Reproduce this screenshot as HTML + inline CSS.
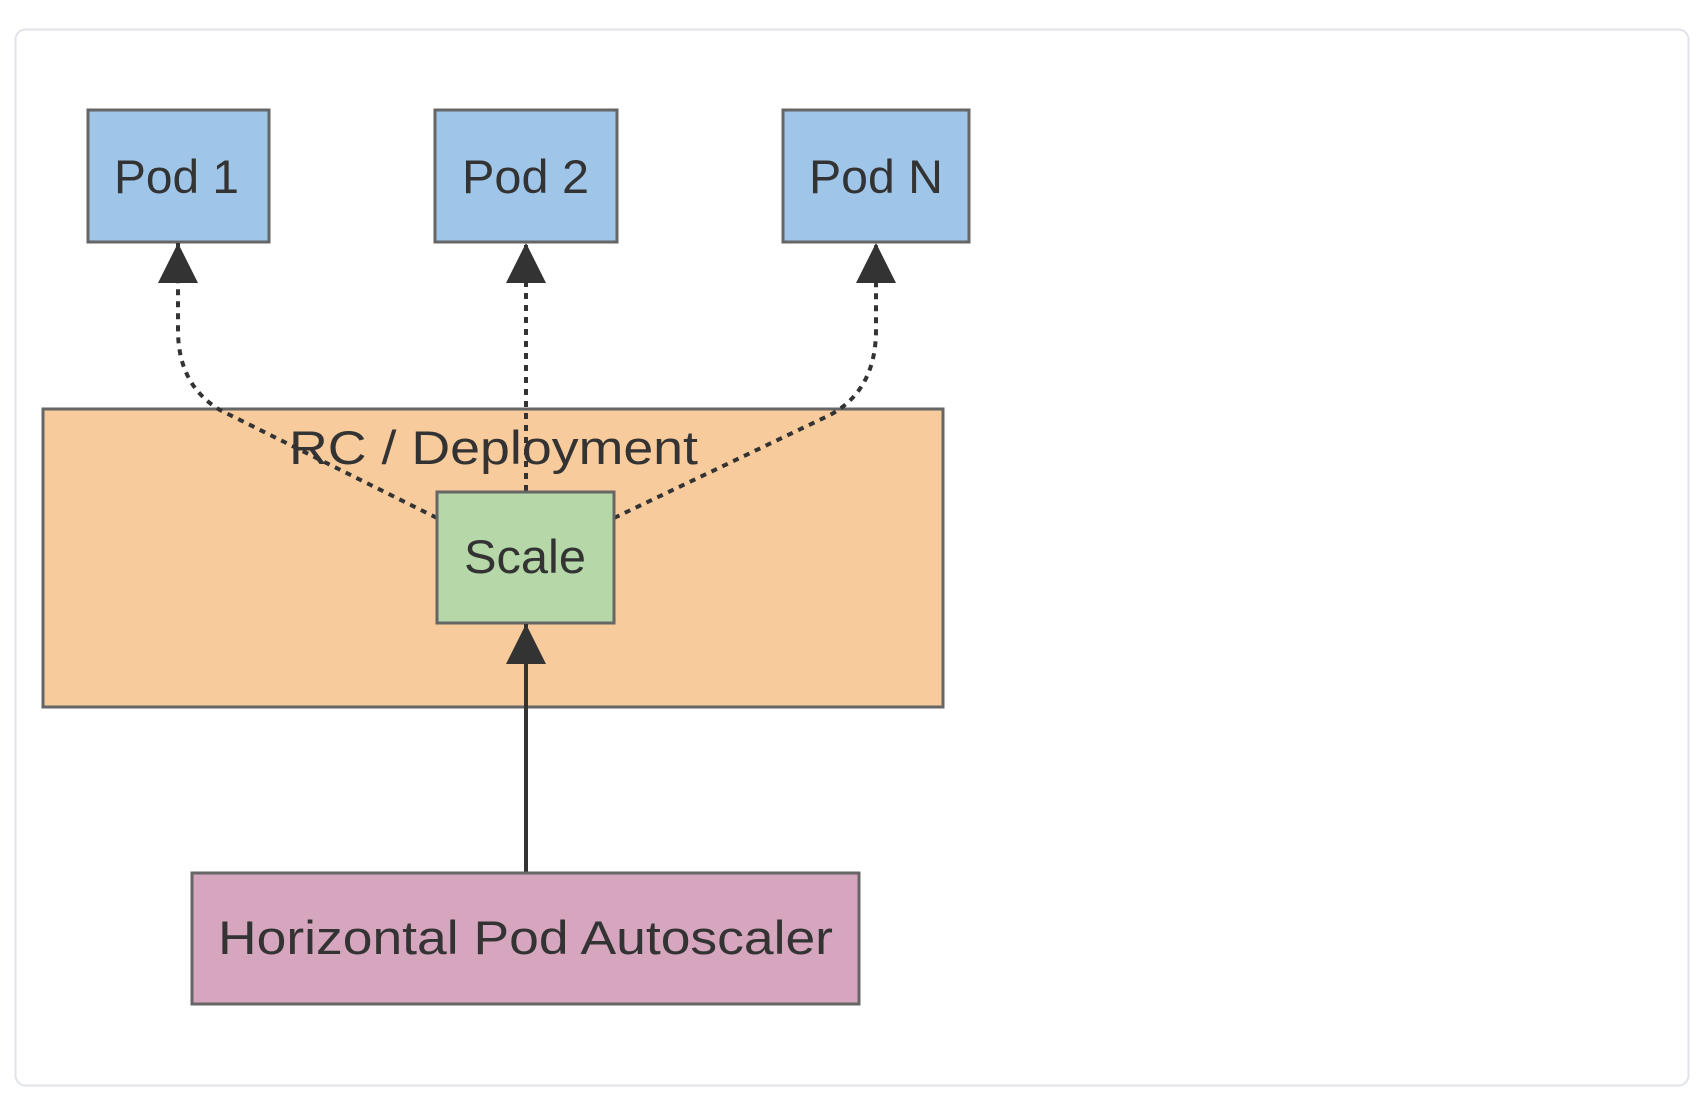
<!DOCTYPE html>
<html><head><style>
body{margin:0;background:#fff;}
svg{display:block;}
text{font-family:"Liberation Sans",sans-serif;fill:#333;}
</style></head><body>
<svg width="1700" height="1104" viewBox="0 0 1700 1104">
<defs>
<marker id="b" viewBox="0 0 10 10" refX="10" refY="5" markerWidth="40" markerHeight="40" orient="auto" markerUnits="userSpaceOnUse"><path d="M0,0 L10,5 L0,10 z" fill="#333"/></marker></defs>
<rect x="15.5" y="29.5" width="1673" height="1056" rx="10" fill="#fff" stroke="#e0e3e8" stroke-width="2"/>
<rect x="43" y="409" width="900" height="298" fill="#f8cb9c" stroke="#666" stroke-width="3"/>
<text x="289" y="464" font-size="47" textLength="409" lengthAdjust="spacingAndGlyphs">RC / Deployment</text>
<rect x="88" y="110" width="181" height="132" fill="#9fc5e8" stroke="#666" stroke-width="3"/>
<rect x="435" y="110" width="182" height="132" fill="#9fc5e8" stroke="#666" stroke-width="3"/>
<rect x="783" y="110" width="186" height="132" fill="#9fc5e8" stroke="#666" stroke-width="3"/>
<text x="114" y="193" font-size="47" textLength="125" lengthAdjust="spacingAndGlyphs">Pod 1</text>
<text x="462" y="193" font-size="47" textLength="127" lengthAdjust="spacingAndGlyphs">Pod 2</text>
<text x="809" y="193" font-size="47" textLength="134" lengthAdjust="spacingAndGlyphs">Pod N</text>
<g fill="none" stroke="#333" stroke-width="4" stroke-dasharray="6,6">
<path d="M437,518 L220,410 Q178,385 178,330 L178,243" marker-end="url(#b)"/>
<path d="M526,491 L526,243" marker-end="url(#b)"/>
<path d="M614,518 L830,415 Q876,390 876,330 L876,243" marker-end="url(#b)"/>
</g>
<rect x="437" y="492" width="177" height="131" fill="#b6d7a8" stroke="#666" stroke-width="3"/>
<text x="464" y="573" font-size="47" textLength="122" lengthAdjust="spacingAndGlyphs">Scale</text>
<path d="M526,873 L526,624" stroke="#333" stroke-width="4" fill="none" marker-end="url(#b)"/>
<rect x="192" y="873" width="667" height="131" fill="#d5a6bd" stroke="#666" stroke-width="3"/>
<text x="218" y="954" font-size="47" textLength="615" lengthAdjust="spacingAndGlyphs">Horizontal Pod Autoscaler</text>
</svg>
</body></html>
